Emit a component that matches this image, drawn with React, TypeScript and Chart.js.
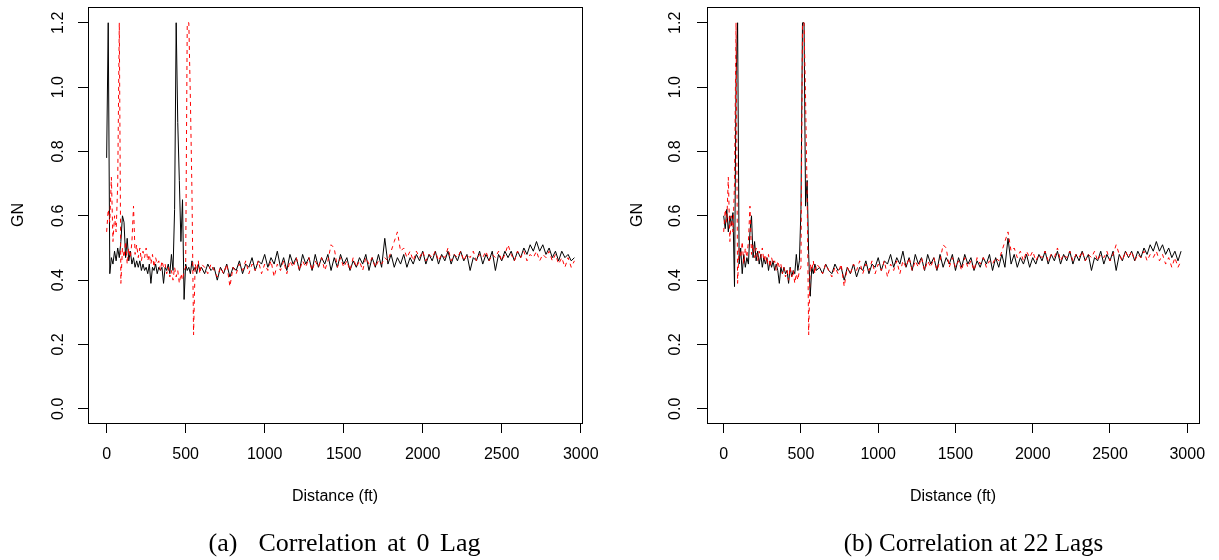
import React, { useEffect, useRef } from "react";
import { Chart, registerables } from "chart.js";

Chart.register(...registerables);

// ---------- data ----------
const distanceFt = [
  0, 10, 20, 30, 40, 50, 60, 70, 80, 90,
  100, 110, 120, 130, 140, 150, 160, 170, 180, 190,
  200, 210, 220, 230, 240, 250, 260, 270, 280, 290,
  300, 310, 320, 330, 340, 350, 360, 370, 380, 390,
  400, 410, 420, 430, 440, 450, 460, 470, 480, 490,
  500, 510, 520, 530, 540, 550, 560, 570, 580, 590,
  600,
  620, 640, 660, 680, 700, 720, 740, 760, 780, 800,
  820, 840, 860, 880, 900, 920, 940, 960, 980, 1000,
  1020, 1040, 1060, 1080, 1100, 1120, 1140, 1160, 1180, 1200,
  1220, 1240, 1260, 1280, 1300, 1320, 1340, 1360, 1380, 1400,
  1420, 1440, 1460, 1480, 1500, 1520, 1540, 1560, 1580, 1600,
  1620, 1640, 1660, 1680, 1700, 1720, 1740, 1760, 1780, 1800,
  1820, 1840, 1860, 1880, 1900, 1920, 1940, 1960, 1980, 2000,
  2020, 2040, 2060, 2080, 2100, 2120, 2140, 2160, 2180, 2200,
  2220, 2240, 2260, 2280, 2300, 2320, 2340, 2360, 2380, 2400,
  2420, 2440, 2460, 2480, 2500, 2520, 2540, 2560, 2580, 2600,
  2620, 2640, 2660, 2680, 2700, 2720, 2740, 2760, 2780, 2800,
  2820, 2840, 2860, 2880, 2900, 2920, 2940, 2960,
];

// (a) black series, 0 lag
const gnBlackLag0 = [
  0.78, 1.2, 0.42, 0.47, 0.45, 0.49, 0.46, 0.5, 0.47, 0.52,
  0.6, 0.58, 0.47, 0.53, 0.46, 0.49, 0.45, 0.47, 0.44, 0.46,
  0.44, 0.46, 0.43, 0.45, 0.43, 0.44, 0.42, 0.45, 0.39, 0.44,
  0.43, 0.45, 0.42, 0.44, 0.43, 0.44, 0.39, 0.44, 0.43, 0.45,
  0.42, 0.48, 0.43, 0.62, 1.2, 0.89, 0.71, 0.52, 0.65, 0.34,
  0.45, 0.43, 0.44, 0.42, 0.46, 0.43, 0.44, 0.42, 0.45, 0.43,
  0.44,
  0.42, 0.45, 0.43, 0.44, 0.4, 0.44, 0.42, 0.45, 0.41, 0.44,
  0.43, 0.46, 0.42, 0.45, 0.44, 0.47, 0.43, 0.46, 0.45, 0.48,
  0.44, 0.47, 0.45, 0.49, 0.44, 0.47, 0.43, 0.48, 0.45, 0.47,
  0.43, 0.48, 0.45, 0.47, 0.43, 0.48, 0.44, 0.47, 0.45, 0.48,
  0.43, 0.47, 0.44, 0.48, 0.45, 0.47, 0.43, 0.46, 0.44, 0.47,
  0.45, 0.48, 0.43, 0.47, 0.44, 0.48, 0.44, 0.53, 0.45, 0.48,
  0.44, 0.47, 0.45, 0.48, 0.44, 0.47, 0.45, 0.48, 0.46, 0.49,
  0.45, 0.48, 0.46, 0.49, 0.45, 0.48, 0.46, 0.49, 0.45, 0.48,
  0.46, 0.49, 0.46, 0.48, 0.43, 0.47, 0.46, 0.49, 0.45, 0.48,
  0.46, 0.49, 0.43, 0.48, 0.46, 0.49, 0.47, 0.49, 0.46, 0.49,
  0.47, 0.5, 0.48, 0.51, 0.49, 0.52, 0.49, 0.51, 0.48, 0.5,
  0.47, 0.49, 0.46, 0.49, 0.47, 0.48, 0.46, 0.47,
];

// red dashed series (same in both panels)
const gnRed = [
  0.55, 0.62, 0.58, 0.72, 0.52, 0.6, 0.55, 0.7, 1.2, 0.39,
  0.5, 0.47, 0.52, 0.45, 0.5, 0.47, 0.52, 0.63, 0.48, 0.51,
  0.47, 0.5, 0.46, 0.49, 0.47, 0.5, 0.46, 0.48, 0.45, 0.48,
  0.44, 0.47, 0.45, 0.46, 0.43, 0.46, 0.44, 0.45, 0.42, 0.44,
  0.41, 0.43, 0.4, 0.44, 0.41, 0.43, 0.39, 0.42, 0.4, 0.43,
  0.44, 1.2, 1.2, 0.96, 0.67, 0.23, 0.45, 0.43, 0.46, 0.42,
  0.45,
  0.44, 0.42, 0.45, 0.43, 0.41, 0.44, 0.42, 0.45, 0.38, 0.44,
  0.42, 0.45, 0.43, 0.46, 0.42, 0.45, 0.43, 0.46, 0.42, 0.45,
  0.43, 0.46, 0.41, 0.45, 0.43, 0.46, 0.42, 0.46, 0.44, 0.47,
  0.43, 0.46, 0.44, 0.47, 0.43, 0.46, 0.44, 0.47, 0.43, 0.46,
  0.51, 0.5, 0.44, 0.47, 0.44, 0.46, 0.43, 0.47, 0.44, 0.46,
  0.43, 0.47, 0.45, 0.47, 0.44, 0.46, 0.45, 0.47, 0.46, 0.49,
  0.52, 0.55, 0.49, 0.5, 0.47, 0.49, 0.46, 0.49, 0.47, 0.49,
  0.46, 0.48, 0.47, 0.49, 0.46, 0.48, 0.47, 0.5, 0.46, 0.48,
  0.47, 0.49, 0.46, 0.48, 0.47, 0.49, 0.46, 0.48, 0.47, 0.49,
  0.46, 0.48, 0.47, 0.49, 0.46, 0.48, 0.51, 0.48, 0.46, 0.49,
  0.47, 0.49, 0.46, 0.48, 0.47, 0.49, 0.46, 0.48, 0.47, 0.49,
  0.46, 0.48, 0.45, 0.47, 0.44, 0.47, 0.44, 0.46,
];

// (b) black series, 22 lags
const gnBlackLag22 = [
  0.6, 0.56, 0.62, 0.55, 0.6, 0.57, 0.61, 0.38, 1.02, 1.2,
  0.45, 0.5, 0.42, 0.48, 0.44, 0.47, 0.45, 0.55, 0.6, 0.47,
  0.52, 0.46, 0.49, 0.45, 0.48, 0.44, 0.47, 0.45, 0.47, 0.43,
  0.46, 0.44, 0.46, 0.43, 0.45, 0.43, 0.39, 0.44, 0.42, 0.44,
  0.42, 0.43, 0.39, 0.44, 0.41, 0.43, 0.42, 0.48, 0.43, 0.46,
  0.62, 1.2, 1.2, 0.63, 0.71, 0.48, 0.35, 0.44, 0.42, 0.45,
  0.43,
  0.44, 0.42, 0.45, 0.43, 0.42, 0.45, 0.43, 0.44, 0.4, 0.44,
  0.42, 0.45, 0.41, 0.44, 0.43, 0.46, 0.42, 0.45, 0.44, 0.47,
  0.43, 0.46, 0.45, 0.48, 0.44, 0.47, 0.45, 0.49, 0.44, 0.47,
  0.43, 0.48, 0.45, 0.47, 0.43, 0.48, 0.45, 0.47, 0.43, 0.48,
  0.44, 0.47, 0.45, 0.48, 0.43, 0.47, 0.44, 0.48, 0.45, 0.47,
  0.43, 0.46, 0.44, 0.47, 0.45, 0.48, 0.43, 0.47, 0.44, 0.48,
  0.44, 0.53, 0.45, 0.48, 0.44, 0.47, 0.45, 0.48, 0.44, 0.47,
  0.45, 0.48, 0.46, 0.49, 0.45, 0.48, 0.46, 0.49, 0.45, 0.48,
  0.46, 0.49, 0.45, 0.48, 0.46, 0.49, 0.46, 0.48, 0.43, 0.47,
  0.46, 0.49, 0.45, 0.48, 0.46, 0.49, 0.43, 0.48, 0.46, 0.49,
  0.47, 0.49, 0.46, 0.49, 0.47, 0.5, 0.48, 0.51, 0.49, 0.52,
  0.49, 0.51, 0.48, 0.5, 0.47, 0.49, 0.46, 0.49,
];

const xTickValues = [0, 500, 1000, 1500, 2000, 2500, 3000];
const yTickValues = [0, 0.2, 0.4, 0.6, 0.8, 1.0, 1.2];
const xAxisTitle = "Distance (ft)";
const yAxisTitle = "GN";
const captionA = "(a)  Correlation at 0 Lag";
const captionB = "(b) Correlation at 22 Lags";

// ---------- chart ----------
const FONT = '"Liberation Sans", Arial, Helvetica, sans-serif';
Chart.defaults.font.family = FONT;
Chart.defaults.font.size = 16;
Chart.defaults.color = "#000";

const boxPlugin = {
  id: "plotBox",
  afterDraw(chart: any) {
    const { ctx, chartArea: a } = chart;
    ctx.save();
    ctx.strokeStyle = "#000";
    ctx.lineWidth = 1;
    const l = Math.round(a.left) + 0.5;
    const t = Math.round(a.top) + 0.5;
    const r = Math.round(a.right) + 0.5;
    const b = Math.round(a.bottom) + 0.5;
    ctx.strokeRect(l, t, r - l, b - t);
    ctx.restore();
  },
};

const zeroPadding = (s: any) => {
  s.paddingTop = 0;
  s.paddingBottom = 0;
  s.paddingLeft = 0;
  s.paddingRight = 0;
};

type PanelProps = {
  left: number;
  width: number;
  plotLeft: number;
  plotRight: number;
  xMin: number;
  xMax: number;
  black: number[];
  red: number[];
  yTitlePad: number;
  yTickPad: number;
};

function Panel(p: PanelProps) {
  const ref = useRef<HTMLCanvasElement>(null);
  useEffect(() => {
    const canvas = ref.current;
    if (!canvas) return;
    const chart = new Chart(canvas, {
      type: "line",
      data: {
        datasets: [
          {
            label: "red",
            data: distanceFt.map((x, i) => ({ x, y: p.red[i] })),
            borderColor: "#ff0000",
            borderWidth: 1,
            borderDash: [4, 4],
            pointRadius: 0,
            tension: 0,
            fill: false,
            order: 0,
          },
          {
            label: "black",
            data: distanceFt.map((x, i) => ({ x, y: p.black[i] })),
            borderColor: "#000000",
            borderWidth: 1,
            pointRadius: 0,
            tension: 0,
            fill: false,
            order: 1,
          },
        ],
      },
      options: {
        responsive: false,
        animation: false,
        events: [],
        layout: { padding: { left: 0, right: p.width - p.plotRight, top: 7, bottom: 0 } },
        plugins: {
          legend: { display: false },
          tooltip: { enabled: false },
          title: { display: false },
        },
        scales: {
          x: {
            type: "linear",
            min: p.xMin,
            max: p.xMax,
            afterBuildTicks: (s: any) => {
              s.ticks = xTickValues.map((v) => ({ value: v }));
            },
            afterFit: (s: any) => {
              s.height = 137;
              zeroPadding(s);
            },
            ticks: {
              callback: (v: any) => String(v),
              padding: 12,
              color: "#000",
              font: { size: 16, family: FONT },
              maxRotation: 0,
              minRotation: 0,
              autoSkip: false,
            },
            grid: { drawOnChartArea: false, drawTicks: true, tickLength: 10, color: "#000", lineWidth: 1 },
            border: { display: false },
            title: {
              display: true,
              text: xAxisTitle,
              color: "#000",
              font: { size: 16, family: FONT },
              padding: { top: 0, bottom: 54 },
            },
          },
          y: {
            type: "linear",
            min: -0.044,
            max: 1.249,
            afterBuildTicks: (s: any) => {
              s.ticks = yTickValues.map((v) => ({ value: v }));
            },
            afterFit: (s: any) => {
              s.width = p.plotLeft;
              zeroPadding(s);
            },
            ticks: {
              callback: (v: any) => Number(v).toFixed(1),
              minRotation: 90,
              maxRotation: 90,
              crossAlign: "center",
              padding: p.yTickPad,
              color: "#000",
              font: { size: 16, family: FONT },
              autoSkip: false,
            },
            grid: { drawOnChartArea: false, drawTicks: true, tickLength: 10, color: "#000", lineWidth: 1 },
            border: { display: false },
            title: {
              display: true,
              text: yAxisTitle,
              color: "#000",
              font: { size: 16, family: FONT },
              padding: { top: p.yTitlePad, bottom: 0 },
            },
          },
        },
      } as any,
      plugins: [boxPlugin],
    });
    return () => chart.destroy();
  }, []);
  return (
    <canvas
      ref={ref}
      width={p.width}
      height={560}
      style={{ position: "absolute", left: p.left, top: 0, width: p.width, height: 560 }}
    />
  );
}

const captionStyle: React.CSSProperties = {
  position: "absolute",
  top: 528,
  transform: "translateX(-50%)",
  fontFamily: '"Liberation Serif", "Times New Roman", serif',
  fontSize: 25,
  lineHeight: "30px",
  whiteSpace: "pre",
  color: "#000",
};

export default function App() {
  return (
    <div
      style={{
        position: "absolute",
        left: 0,
        top: 0,
        width: 1219,
        height: 560,
        background: "#fff",
        overflow: "hidden",
      }}
    >
      <Panel
        left={0}
        width={609}
        plotLeft={88}
        plotRight={582}
        xMin={-118}
        xMax={3008}
        black={gnBlackLag0}
        red={gnRed}
        yTitlePad={9.4}
        yTickPad={8.4}
      />
      <Panel
        left={609}
        width={610}
        plotLeft={98}
        plotRight={590}
        xMin={-108}
        xMax={3076}
        black={gnBlackLag22}
        red={gnRed}
        yTitlePad={18.9}
        yTickPad={10.1}
      />
      <div style={{ ...captionStyle, left: 344.5, fontSize: 26, wordSpacing: 4 }}>{captionA}</div>
      <div style={{ ...captionStyle, left: 973.5 }}>{captionB}</div>
    </div>
  );
}
